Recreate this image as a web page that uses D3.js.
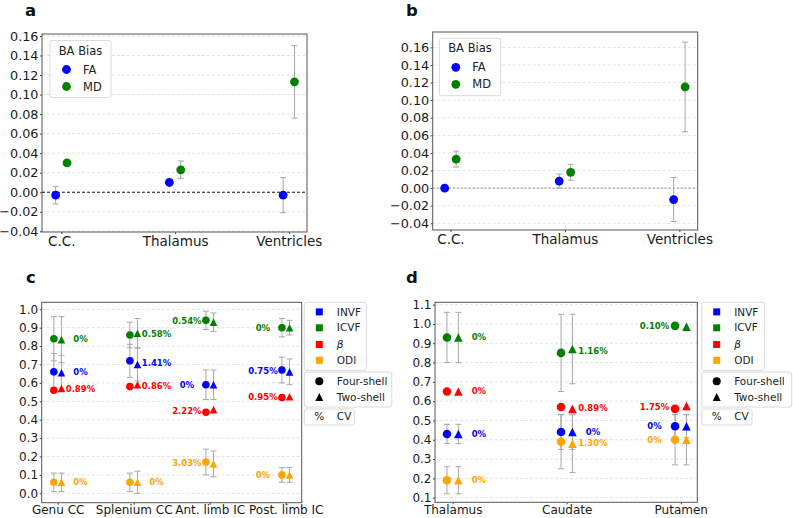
<!DOCTYPE html>
<html><head><meta charset="utf-8">
<script src="https://cdn.jsdelivr.net/npm/d3@7"></script>
<style>body{margin:0;background:#fff} svg{display:block} text{font-family:"DejaVu Sans",sans-serif}</style>
</head><body><svg id="chart" width="793" height="518"></svg>
<script>
// ---------- data ----------
const regionsAB = ["C.C.", "Thalamus", "Ventricles"];
const biasTicksA = [-0.04, -0.02, 0, 0.02, 0.04, 0.06, 0.08, 0.10, 0.12, 0.14, 0.16];
const biasTicksB = [-0.04, -0.02, 0, 0.02, 0.04, 0.06, 0.08, 0.10, 0.12, 0.14, 0.16];
const aFA = [-0.003, 0.010, -0.003];
const aFAerr = [0.009, 0.002, 0.018];
const aMD = [0.030, 0.023, 0.113];
const aMDerr = [0.001, 0.009, 0.037];
const bFA = [0.000, 0.008, -0.013];
const bFAerr = [0.001, 0.008, 0.025];
const bMD = [0.033, 0.018, 0.115];
const bMDerr = [0.009, 0.009, 0.051];

const metrics = ["INVF", "ICVF", "β", "ODI"];
const metricColors = ["#0000ff", "#008000", "#ff0000", "#ffa500"];

const regionsC = ["Genu CC", "Splenium CC", "Ant. limb IC", "Post. limb IC"];
const ticksC = [0, 0.1, 0.2, 0.3, 0.4, 0.5, 0.6, 0.7, 0.8, 0.9, 1.0];
const cFourINVF = [0.66, 0.72, 0.59, 0.67], cFourINVFerr = [0.10, 0.09, 0.08, 0.07];
const cFourICVF = [0.84, 0.86, 0.94, 0.90], cFourICVFerr = [0.12, 0.07, 0.05, 0.05];
const cFourBeta = [0.56, 0.58, 0.44, 0.52], cFourBetaErr = [0, 0, 0, 0];
const cFourODI = [0.06, 0.06, 0.17, 0.10], cFourODIerr = [0.05, 0.05, 0.07, 0.04];
const cTwoINVF = [0.655, 0.70, 0.59, 0.66], cTwoINVFerr = [0.095, 0.09, 0.08, 0.07];
const cTwoICVF = [0.835, 0.87, 0.93, 0.90], cTwoICVFerr = [0.125, 0.08, 0.05, 0.04];
const cTwoBeta = [0.57, 0.59, 0.455, 0.525], cTwoBetaErr = [0, 0, 0, 0];
const cTwoODI = [0.06, 0.06, 0.16, 0.10], cTwoODIerr = [0.05, 0.06, 0.07, 0.04];
const cCV_INVF = ["0%", "1.41%", "0%", "0.75%"];
const cCV_ICVF = ["0%", "0.58%", "0.54%", "0%"];
const cCV_Beta = ["0.89%", "0.86%", "2.22%", "0.95%"];
const cCV_ODI = ["0%", "0%", "3.03%", "0%"];

const regionsD = ["Thalamus", "Caudate", "Putamen"];
const ticksD = [0.1, 0.2, 0.3, 0.4, 0.5, 0.6, 0.7, 0.8, 0.9, 1.0, 1.1];
const dFourINVF = [0.43, 0.44, 0.47], dFourINVFerr = [0.05, 0.09, 0.06];
const dFourICVF = [0.93, 0.85, 0.99], dFourICVFerr = [0.13, 0.20, 0];
const dFourBeta = [0.65, 0.57, 0.56], dFourBetaErr = [0, 0, 0];
const dFourODI = [0.19, 0.39, 0.40], dFourODIerr = [0.07, 0.14, 0.13];
const dTwoINVF = [0.43, 0.44, 0.47], dTwoINVFerr = [0.05, 0.09, 0.06];
const dTwoICVF = [0.93, 0.87, 0.985], dTwoICVFerr = [0.13, 0.18, 0];
const dTwoBeta = [0.65, 0.56, 0.575], dTwoBetaErr = [0, 0, 0];
const dTwoODI = [0.19, 0.38, 0.40], dTwoODIerr = [0.07, 0.15, 0.13];
const dCV_INVF = ["0%", "0%", "0%"];
const dCV_ICVF = ["0%", "1.16%", "0.10%"];
const dCV_Beta = ["0%", "0.89%", "1.75%"];
const dCV_ODI = ["0%", "1.30%", "0%"];

// ---------- helpers ----------
const svg = d3.select("#chart");
const ERR = "#a8a8a8";

function frame(x, y, ticks, fmt, cats, fs, xfs, xPad) {
  const g = svg.append("g");
  const [x0, x1] = x.range();
  const [yb, yt] = y.range();
  g.selectAll("line.grid").data(ticks).join("line").attr("class", "grid")
    .attr("x1", x0).attr("x2", x1).attr("y1", d => y(d)).attr("y2", d => y(d))
    .attr("stroke", "#dcdcdc").attr("stroke-width", 0.8).attr("stroke-dasharray", "3,2");
  const ya = g.append("g").attr("transform", `translate(${x0},0)`)
    .call(d3.axisLeft(y).tickValues(ticks).tickFormat(fmt).tickSize(2).tickPadding(1.5));
  ya.select(".domain").remove();
  ya.selectAll("line").attr("stroke", "#444");
  ya.selectAll("text").attr("font-size", fs).attr("fill", "#1a1a1a")
    .attr("font-family", "DejaVu Sans");
  const xa = g.append("g").attr("transform", `translate(0,${yb})`)
    .call(d3.axisBottom(x).tickValues(cats.map((c, i) => i)).tickFormat(i => cats[i]).tickSize(2).tickPadding(xPad));
  xa.select(".domain").remove();
  xa.selectAll("line").attr("stroke", "#444");
  xa.selectAll("text").attr("font-size", xfs).attr("fill", "#1a1a1a")
    .attr("font-family", "DejaVu Sans");
  g.append("rect").attr("x", x0).attr("y", yt).attr("width", x1 - x0).attr("height", yb - yt)
    .attr("fill", "none").attr("stroke", "#555").attr("stroke-width", 1);
  return g;
}

function errbar(g, px, y, v, e) {
  if (!(e > 0)) return;
  const t = y(v + e), b = y(v - e);
  g.append("line").attr("x1", px).attr("x2", px).attr("y1", t).attr("y2", b)
    .attr("stroke", ERR).attr("stroke-width", 1);
  [t, b].forEach(yy => g.append("line").attr("x1", px - 3).attr("x2", px + 3)
    .attr("y1", yy).attr("y2", yy).attr("stroke", ERR).attr("stroke-width", 1));
}

function marker(g, shape, px, py, r, color) {
  if (shape === "circle") {
    g.append("circle").attr("cx", px).attr("cy", py).attr("r", r).attr("fill", color);
  } else if (shape === "square") {
    g.append("rect").attr("x", px - r).attr("y", py - r).attr("width", 2 * r).attr("height", 2 * r).attr("fill", color);
  } else {
    g.append("path").attr("d", `M${px},${py - r}L${px + r},${py + r}L${px - r},${py + r}Z`).attr("fill", color);
  }
}

function legendBox(x, y, w, h) {
  svg.append("rect").attr("x", x).attr("y", y).attr("width", w).attr("height", h)
    .attr("rx", 2).attr("fill", "#fff").attr("fill-opacity", 0.85)
    .attr("stroke", "#d0d0d0").attr("stroke-width", 0.8);
}

function panelLetter(txt, x, y) {
  svg.append("text").attr("x", x).attr("y", y).text(txt)
    .attr("font-family", "Liberation Sans, Arial, sans-serif").attr("font-weight", "bold")
    .attr("font-size", 16.5).attr("fill", "#111");
}

// ---------- panels a, b ----------
function biasPanel(cfg) {
  const x = d3.scaleLinear().domain(cfg.xd).range(cfg.xr);
  const y = d3.scaleLinear().domain(cfg.yd).range(cfg.yr);
  const g = frame(x, y, cfg.ticks, d3.format(".2f"), regionsAB, 12.8, 13.5, 2);
  g.append("line").attr("x1", cfg.xr[0]).attr("x2", cfg.xr[1]).attr("y1", y(0)).attr("y2", y(0))
    .attr("stroke", cfg.zeroColor).attr("stroke-width", 0.9).attr("stroke-dasharray", cfg.zeroDash);
  const series = [[cfg.fa, cfg.faErr, -0.05, "#0000ff"], [cfg.md, cfg.mdErr, 0.05, "#008000"]];
  series.forEach(([vals, errs, off]) => vals.forEach((v, i) => errbar(g, x(i + off), y, v, errs[i])));
  series.forEach(([vals, errs, off, col]) => vals.forEach((v, i) => marker(g, "circle", x(i + off), y(v), 4.4, col)));
  // legend
  const L = cfg.leg;
  legendBox(L.x, L.y, L.w, L.h);
  svg.append("text").attr("x", L.x + L.w / 2).attr("y", L.y + 10).attr("dy", "0.35em")
    .attr("text-anchor", "middle").attr("font-size", 11.5).attr("fill", "#222").text("BA Bias");
  [["FA", "#0000ff"], ["MD", "#008000"]].forEach(([lab, col], k) => {
    const yy = L.y + 29 + k * 17;
    marker(svg, "circle", L.x + 16.5, yy, 4.4, col);
    svg.append("text").attr("x", L.x + 33).attr("y", yy).attr("dy", "0.35em")
      .attr("font-size", 11.5).attr("fill", "#222").text(lab);
  });
}

biasPanel({ xd: [-0.17, 2.16], xr: [42, 307], yd: [-0.0407, 0.162], yr: [232, 34], ticks: biasTicksA,
  fa: aFA, faErr: aFAerr, md: aMD, mdErr: aMDerr, zeroColor: "#000", zeroDash: "3,2",
  leg: { x: 50, y: 40.5, w: 61, h: 57 } });
biasPanel({ xd: [-0.155, 2.16], xr: [432.7, 697.7], yd: [-0.0476, 0.1775], yr: [230, 32], ticks: biasTicksB,
  fa: bFA, faErr: bFAerr, md: bMD, mdErr: bMDerr, zeroColor: "#888", zeroDash: "2,2",
  leg: { x: 439.3, y: 38.3, w: 61.4, h: 57.4 } });

// ---------- panels c, d ----------
function nodPanel(cfg) {
  const x = d3.scaleLinear().domain(cfg.xd).range(cfg.xr);
  const y = d3.scaleLinear().domain(cfg.yd).range(cfg.yr);
  const g = frame(x, y, cfg.ticks, d3.format(".1f"), cfg.cats, 12, 12, 0.8);
  // error bars first
  cfg.four.forEach((ser) => ser[0].forEach((v, i) => errbar(g, x(i - 0.05), y, v, ser[1][i])));
  cfg.two.forEach((ser) => ser[0].forEach((v, i) => errbar(g, x(i + 0.05), y, v, ser[1][i])));
  cfg.four.forEach((ser, m) => ser[0].forEach((v, i) => marker(g, "circle", x(i - 0.05), y(v), cfg.r, metricColors[m])));
  cfg.two.forEach((ser, m) => ser[0].forEach((v, i) => marker(g, "tri", x(i + 0.05), y(v), cfg.r, metricColors[m])));
  // CV labels
  cfg.cv.forEach((labs, m) => labs.forEach((lab, i) => {
    const side = cfg.labelSide[i];
    const yv = (cfg.four[m][0][i] + cfg.two[m][0][i]) / 2;
    g.append("text").attr("x", x(i + side * cfg.labOff)).attr("y", y(yv)).attr("dy", "0.35em")
      .attr("text-anchor", "middle").attr("font-size", 8.5).attr("font-weight", "bold")
      .attr("fill", metricColors[m]).text(lab);
  }));
  // legends
  const lx = cfg.legX, mx = lx + 15, tx = lx + 32.5;
  legendBox(lx, 302.3, cfg.legW[0], 68);
  metrics.forEach((mt, k) => {
    const yy = [311.9, 327.8, 344.5, 360.3][k];
    marker(svg, "square", mx, yy, 3.5, metricColors[k]);
    svg.append("text").attr("x", tx).attr("y", yy).attr("dy", "0.35em").attr("font-size", 10.5)
      .attr("fill", "#222").attr("font-style", mt === "β" ? "italic" : null).text(mt);
  });
  legendBox(lx, 372, cfg.legW[1], 35);
  [["circle", "Four-shell"], ["tri", "Two-shell"]].forEach(([s, t], k) => {
    const yy = [381.2, 397][k];
    marker(svg, s, mx, yy, 4, "#000");
    svg.append("text").attr("x", tx).attr("y", yy).attr("dy", "0.35em").attr("font-size", 10.5)
      .attr("fill", "#222").text(t);
  });
  legendBox(lx, 409, cfg.legW[2], 16);
  svg.append("text").attr("x", mx).attr("y", 416.8).attr("dy", "0.35em").attr("text-anchor", "middle")
    .attr("font-size", 10.5).attr("fill", "#222").text("%");
  svg.append("text").attr("x", tx).attr("y", 416.8).attr("dy", "0.35em").attr("font-size", 10.5)
    .attr("fill", "#222").text("CV");
}

nodPanel({ xd: [-0.21, 3.21], xr: [41.7, 301.7], yd: [-0.051, 1.038], yr: [502.7, 302.3], ticks: ticksC,
  cats: regionsC, r: 3.8, labOff: 0.3, labelSide: [1, 1, -1, -1],
  four: [[cFourINVF, cFourINVFerr], [cFourICVF, cFourICVFerr], [cFourBeta, cFourBetaErr], [cFourODI, cFourODIerr]],
  two: [[cTwoINVF, cTwoINVFerr], [cTwoICVF, cTwoICVFerr], [cTwoBeta, cTwoBetaErr], [cTwoODI, cTwoODIerr]],
  cv: [cCV_INVF, cCV_ICVF, cCV_Beta, cCV_ODI], legX: 304.3, legW: [62, 87.5, 50] });

nodPanel({ xd: [-0.155, 2.145], xr: [435, 697.3], yd: [0.076, 1.112], yr: [502.3, 302.3], ticks: ticksD,
  cats: regionsD, r: 4.3, labOff: 0.23, labelSide: [1, 1, -1],
  four: [[dFourINVF, dFourINVFerr], [dFourICVF, dFourICVFerr], [dFourBeta, dFourBetaErr], [dFourODI, dFourODIerr]],
  two: [[dTwoINVF, dTwoINVFerr], [dTwoICVF, dTwoICVFerr], [dTwoBeta, dTwoBetaErr], [dTwoODI, dTwoODIerr]],
  cv: [dCV_INVF, dCV_ICVF, dCV_Beta, dCV_ODI], legX: 701.7, legW: [62.6, 90, 50.3] });

panelLetter("a", 25, 16);
panelLetter("b", 406, 16);
panelLetter("c", 26, 283);
panelLetter("d", 406, 283);
</script></body></html>
